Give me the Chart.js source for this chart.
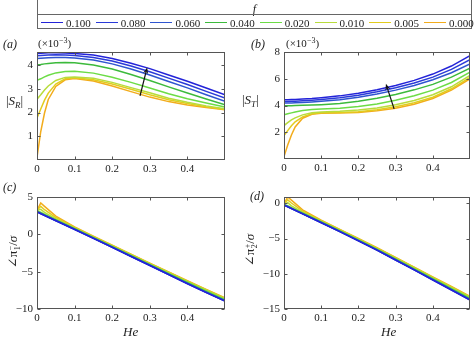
<!DOCTYPE html>
<html>
<head>
<meta charset="utf-8">
<script src="https://cdn.jsdelivr.net/npm/chart.js@4.4.1/dist/chart.umd.min.js"></script>
<style>
  html, body { margin: 0; padding: 0; background: #fff; }
  #wrap { position: relative; width: 474px; height: 340px; overflow: hidden;
          font-family: 'Liberation Serif', 'DejaVu Serif', serif; color: #222; }
  canvas { position: absolute; left: 0; top: 0; }
  .t { position: absolute; white-space: nowrap; line-height: 1; }
  .it { font-style: italic; }
  .lbl { font-size: 12px; }
  .unit { font-size: 11px; }
  .unit sup { font-size: 8px; vertical-align: 4px; line-height: 0; }
  .ytitle { font-size: 13px; }
  .ytitle sub { font-size: 9px; vertical-align: -3px; line-height: 0; }
  .rot { transform: translate(-50%, -50%) rotate(-90deg); transform-origin: center; }
  .stk { display: inline-flex; flex-direction: column; vertical-align: middle;
         font-size: 8px; line-height: 7px; margin-left: 0.5px; }
  #legend { position: absolute; left: 37px; top: -2px; width: 435px; height: 31px;
            border: 1px solid #666; box-sizing: border-box; }
  #legend .title { position: absolute; left: 0; right: 0; top: 3px; text-align: center;
                   font-size: 12px; font-style: italic; }
  #legend .rule { position: absolute; left: 0; right: 0; top: 15px; border-top: 1px solid #666; }
  #legend .swatch { position: absolute; top: 23px; height: 0; width: 22px; border-top: 1.5px solid; }
  #legend .txt { position: absolute; top: 18px; font-size: 11px; }
</style>
</head>
<body>
<div id="wrap">
  <canvas id="panelA" width="474" height="340"></canvas>
  <canvas id="panelB" width="474" height="340"></canvas>
  <canvas id="panelC" width="474" height="340"></canvas>
  <canvas id="panelD" width="474" height="340"></canvas>

  <div id="legend"><div class="title">f</div><div class="rule"></div></div>

  <div class="t it lbl" style="left:3px;top:38px;">(a)</div>
  <div class="t unit" style="left:38px;top:38px;">(×10<sup>−3</sup>)</div>
  <div class="t ytitle" style="left:6px;top:94px;">|<i>S</i><sub><i>R</i></sub>|</div>

  <div class="t it lbl" style="left:251px;top:38px;">(<i>b</i>)</div>
  <div class="t unit" style="left:286px;top:38px;">(×10<sup>−3</sup>)</div>
  <div class="t ytitle" style="left:242px;top:93px;">|<i>S</i><sub><i>T</i></sub>|</div>

  <div class="t it lbl" style="left:3px;top:181px;">(<i>c</i>)</div>
  <div class="t ytitle rot" style="left:14px;top:252px;">∠π<span class="stk"><span>−</span><span>1</span></span>/<i>σ</i></div>
  <div class="t it ytitle" style="left:123px;top:325px;">He</div>

  <div class="t it lbl" style="left:250px;top:190px;">(<i>d</i>)</div>
  <div class="t ytitle rot" style="left:251px;top:250px;">∠π<span class="stk"><span>+</span><span>2</span></span>/<i>σ</i></div>
  <div class="t it ytitle" style="left:381px;top:325px;">He</div>
</div>

<script>
// Parameter values f shown in the legend (one curve per value)
const fLabels = ['0.100', '0.080', '0.060', '0.040', '0.020', '0.010', '0.005', '0.000'];
const lineColors = ['#2323d8', '#2a3ad8', '#2f55d0', '#3cba3c', '#6cdc46', '#b8dc3c', '#e2cc1e', '#f2ac1c'];

// Helmholtz number samples
const heMag = [0, 0.01, 0.02, 0.03, 0.05, 0.075, 0.1, 0.15, 0.2, 0.25, 0.3, 0.35, 0.4, 0.45, 0.5];
const heAng = [0, 0.01, 0.02, 0.05, 0.1, 0.15, 0.2, 0.25, 0.3, 0.35, 0.4, 0.45, 0.5];

// |S_R| (x 1e-3), one row per f
const magSR = [
  [4.49, 4.50, 4.51, 4.52, 4.52, 4.51, 4.49, 4.42, 4.28, 4.08, 3.85, 3.58, 3.32, 3.03, 2.75],
  [4.39, 4.40, 4.41, 4.42, 4.43, 4.42, 4.40, 4.32, 4.17, 3.96, 3.72, 3.45, 3.18, 2.89, 2.61],
  [4.28, 4.29, 4.30, 4.31, 4.32, 4.32, 4.30, 4.21, 4.05, 3.83, 3.58, 3.31, 3.04, 2.75, 2.47],
  [4.00, 4.02, 4.05, 4.07, 4.10, 4.11, 4.10, 4.00, 3.83, 3.60, 3.35, 3.08, 2.82, 2.57, 2.33],
  [3.36, 3.42, 3.50, 3.57, 3.67, 3.73, 3.74, 3.66, 3.49, 3.27, 3.03, 2.79, 2.58, 2.40, 2.23],
  [2.56, 2.75, 2.95, 3.12, 3.35, 3.48, 3.50, 3.44, 3.27, 3.05, 2.83, 2.60, 2.43, 2.28, 2.16],
  [1.77, 2.15, 2.52, 2.82, 3.20, 3.42, 3.46, 3.38, 3.20, 2.98, 2.75, 2.54, 2.38, 2.24, 2.13],
  [0.11, 1.20, 1.98, 2.55, 3.10, 3.38, 3.43, 3.33, 3.12, 2.88, 2.65, 2.46, 2.32, 2.21, 2.12]
];

// |S_T| (x 1e-3), one row per f
const magST = [
  [4.43, 4.43, 4.44, 4.45, 4.48, 4.52, 4.58, 4.72, 4.92, 5.18, 5.50, 5.88, 6.35, 6.95, 7.73],
  [4.30, 4.30, 4.31, 4.32, 4.35, 4.39, 4.44, 4.58, 4.77, 5.02, 5.32, 5.68, 6.12, 6.70, 7.43],
  [4.18, 4.18, 4.19, 4.20, 4.22, 4.26, 4.31, 4.43, 4.62, 4.86, 5.15, 5.50, 5.92, 6.45, 7.10],
  [3.98, 3.98, 3.99, 4.00, 4.01, 4.03, 4.06, 4.15, 4.31, 4.54, 4.83, 5.17, 5.58, 6.12, 6.80],
  [3.30, 3.38, 3.45, 3.52, 3.62, 3.70, 3.74, 3.80, 3.92, 4.12, 4.40, 4.73, 5.15, 5.72, 6.50],
  [2.50, 2.72, 2.92, 3.08, 3.30, 3.45, 3.52, 3.57, 3.66, 3.82, 4.05, 4.38, 4.80, 5.40, 6.25],
  [1.75, 2.12, 2.48, 2.78, 3.15, 3.38, 3.45, 3.47, 3.54, 3.68, 3.90, 4.20, 4.62, 5.25, 6.10],
  [0.18, 1.05, 1.80, 2.40, 3.05, 3.35, 3.42, 3.43, 3.48, 3.60, 3.80, 4.10, 4.52, 5.15, 6.00]
];

// Phase of pi_1^- divided by sigma, one row per f
const phasePi1 = [
  [3.00, 2.76, 2.52, 1.82, 0.65, -0.55, -1.75, -2.97, -4.18, -5.40, -6.62, -7.80, -8.95],
  [3.02, 2.78, 2.54, 1.84, 0.67, -0.53, -1.73, -2.95, -4.16, -5.38, -6.60, -7.78, -8.93],
  [3.04, 2.80, 2.56, 1.86, 0.69, -0.51, -1.71, -2.93, -4.14, -5.36, -6.57, -7.75, -8.90],
  [3.07, 2.83, 2.59, 1.89, 0.72, -0.48, -1.68, -2.89, -4.10, -5.31, -6.52, -7.70, -8.85],
  [3.12, 2.95, 2.70, 1.97, 0.78, -0.42, -1.61, -2.82, -4.02, -5.22, -6.42, -7.59, -8.73],
  [3.18, 3.35, 2.95, 2.08, 0.85, -0.36, -1.55, -2.75, -3.95, -5.14, -6.33, -7.49, -8.63],
  [3.20, 3.75, 3.30, 2.25, 0.92, -0.31, -1.50, -2.70, -3.89, -5.08, -6.27, -7.42, -8.57],
  [3.22, 4.20, 3.75, 2.45, 1.00, -0.26, -1.46, -2.66, -3.85, -5.04, -6.22, -7.37, -8.52]
];

// Phase of pi_2^+ divided by sigma, one row per f
const phasePi2 = [
  [-0.25, -0.50, -0.75, -1.50, -2.75, -4.02, -5.32, -6.65, -8.05, -9.45, -10.88, -12.30, -13.72],
  [-0.24, -0.49, -0.74, -1.49, -2.74, -4.01, -5.31, -6.64, -8.04, -9.44, -10.86, -12.28, -13.70],
  [-0.22, -0.47, -0.72, -1.47, -2.72, -3.99, -5.29, -6.62, -8.01, -9.41, -10.83, -12.24, -13.66],
  [-0.20, -0.45, -0.70, -1.44, -2.69, -3.96, -5.26, -6.58, -7.97, -9.37, -10.78, -12.19, -13.60],
  [-0.15, -0.33, -0.60, -1.36, -2.62, -3.89, -5.18, -6.50, -7.88, -9.27, -10.67, -12.07, -13.47],
  [-0.10, 0.10, -0.35, -1.25, -2.54, -3.81, -5.10, -6.42, -7.80, -9.18, -10.57, -11.96, -13.35],
  [-0.08, 0.50, 0.05, -1.10, -2.47, -3.75, -5.04, -6.36, -7.73, -9.11, -10.50, -11.88, -13.27],
  [-0.05, 0.90, 0.45, -0.92, -2.40, -3.69, -4.98, -6.30, -7.67, -9.05, -10.43, -11.80, -13.20]
];

// Tick values
const heTicks = [0, 0.1, 0.2, 0.3, 0.4];
const ticksSR = [1, 2, 3, 4];
const ticksST = [2, 4, 6, 8];
const ticksPi1 = [-10, -5, 0, 5];
const ticksPi2 = [-15, -10, -5, 0];

// Direction of increasing f (data coordinates: [He, value])
const arrowSR = [[0.274, 2.70], [0.293, 3.90]];
const arrowST = [[0.296, 3.75], [0.274, 5.62]];

// ---- legend ----
const legend = document.getElementById('legend');
fLabels.forEach((lab, i) => {
  const x0 = 3 + i * 54.7;
  const sw = document.createElement('div');
  sw.className = 'swatch';
  sw.style.left = x0 + 'px';
  sw.style.borderTopColor = lineColors[i];
  legend.appendChild(sw);
  const tx = document.createElement('div');
  tx.className = 'txt';
  tx.style.left = (x0 + 25) + 'px';
  tx.textContent = lab;
  legend.appendChild(tx);
});

// ---- drawing helpers ----
const frameTicks = {
  id: 'frameTicks',
  afterDatasetsDraw(chart) {
    const { ctx, chartArea: a, scales } = chart;
    const L = Math.round(a.left) + 0.5, R = Math.round(a.right) - 0.5;
    const T = Math.round(a.top) + 0.5, B = Math.round(a.bottom) - 0.5;
    ctx.save();
    ctx.strokeStyle = '#555';
    ctx.lineWidth = 1;
    ctx.strokeRect(L, T, R - L, B - T);
    ctx.beginPath();
    const len = 3;
    scales.x.ticks.forEach(t => {
      const px = Math.round(scales.x.getPixelForValue(t.value)) + 0.5;
      ctx.moveTo(px, B); ctx.lineTo(px, B - len);
      ctx.moveTo(px, T); ctx.lineTo(px, T + len);
    });
    scales.y.ticks.forEach(t => {
      const py = Math.round(scales.y.getPixelForValue(t.value)) + 0.5;
      ctx.moveTo(L, py); ctx.lineTo(L + len, py);
      ctx.moveTo(R, py); ctx.lineTo(R - len, py);
    });
    ctx.stroke();
    ctx.restore();
  }
};

const arrowMark = {
  id: 'arrowMark',
  afterDatasetsDraw(chart, args, opts) {
    if (!opts || !opts.points) return;
    const { ctx, scales: { x, y } } = chart;
    const [p0, p1] = opts.points;
    const x0 = x.getPixelForValue(p0[0]), y0 = y.getPixelForValue(p0[1]);
    const x1 = x.getPixelForValue(p1[0]), y1 = y.getPixelForValue(p1[1]);
    const ang = Math.atan2(y1 - y0, x1 - x0);
    const head = 7, spread = 0.38;
    ctx.save();
    ctx.strokeStyle = '#111';
    ctx.fillStyle = '#111';
    ctx.lineWidth = 1.2;
    ctx.beginPath();
    ctx.moveTo(x0, y0);
    ctx.lineTo(x1 - Math.cos(ang) * head * 0.6, y1 - Math.sin(ang) * head * 0.6);
    ctx.stroke();
    ctx.beginPath();
    ctx.moveTo(x1, y1);
    ctx.lineTo(x1 - head * Math.cos(ang - spread), y1 - head * Math.sin(ang - spread));
    ctx.lineTo(x1 - head * 0.6 * Math.cos(ang), y1 - head * 0.6 * Math.sin(ang));
    ctx.lineTo(x1 - head * Math.cos(ang + spread), y1 - head * Math.sin(ang + spread));
    ctx.closePath();
    ctx.fill();
    ctx.restore();
  }
};

const minus = v => String(v).replace('-', '\u2212');
const tickFont = { family: "'Liberation Serif', 'DejaVu Serif', serif", size: 11 };
const YW = 30, XH = 20;

function makePanel(id, box, he, rows, yMin, yMax, yTicks, arrow) {
  const datasets = rows.map((row, i) => ({
    label: fLabels[i],
    data: he.map((h, k) => ({ x: h, y: row[k] })),
    borderColor: lineColors[i],
    borderWidth: 1.5,
    pointRadius: 0,
    tension: 0,
    fill: false
  }));
  new Chart(document.getElementById(id), {
    type: 'line',
    data: { datasets },
    options: {
      responsive: false,
      animation: false,
      devicePixelRatio: 1,
      layout: { padding: { left: box.l - YW, right: 474 - box.r, top: box.t, bottom: 340 - box.b - XH } },
      plugins: { legend: { display: false }, tooltip: { enabled: false }, arrowMark: { points: arrow } },
      scales: {
        x: {
          type: 'linear', min: 0, max: 0.5,
          grid: { display: false, drawTicks: false },
          border: { display: false },
          afterBuildTicks: s => { s.ticks = heTicks.map(v => ({ value: v })); },
          afterFit: s => { s.height = XH; },
          ticks: { autoSkip: false, maxRotation: 0, padding: 3, color: '#222', font: tickFont,
                   callback: v => (v === 0 ? '0' : Number(v).toFixed(1)) }
        },
        y: {
          type: 'linear', min: yMin, max: yMax,
          grid: { display: false, drawTicks: false },
          border: { display: false },
          afterBuildTicks: s => { s.ticks = yTicks.map(v => ({ value: v })); },
          afterFit: s => { s.width = YW; },
          ticks: { autoSkip: false, padding: 4, color: '#222', font: tickFont,
                   callback: v => minus(v) }
        }
      }
    },
    plugins: [frameTicks, arrowMark]
  });
}

makePanel('panelA', { l: 37, r: 225, t: 52, b: 160 }, heMag, magSR, 0, 4.55, ticksSR, arrowSR);
makePanel('panelB', { l: 284, r: 470, t: 52, b: 159 }, heMag, magST, 0, 8, ticksST, arrowST);
makePanel('panelC', { l: 37, r: 225, t: 197, b: 309 }, heAng, phasePi1, -10, 5, ticksPi1, null);
makePanel('panelD', { l: 284, r: 470, t: 197, b: 309 }, heAng, phasePi2, -15, 0.9, ticksPi2, null);
</script>
</body>
</html>
